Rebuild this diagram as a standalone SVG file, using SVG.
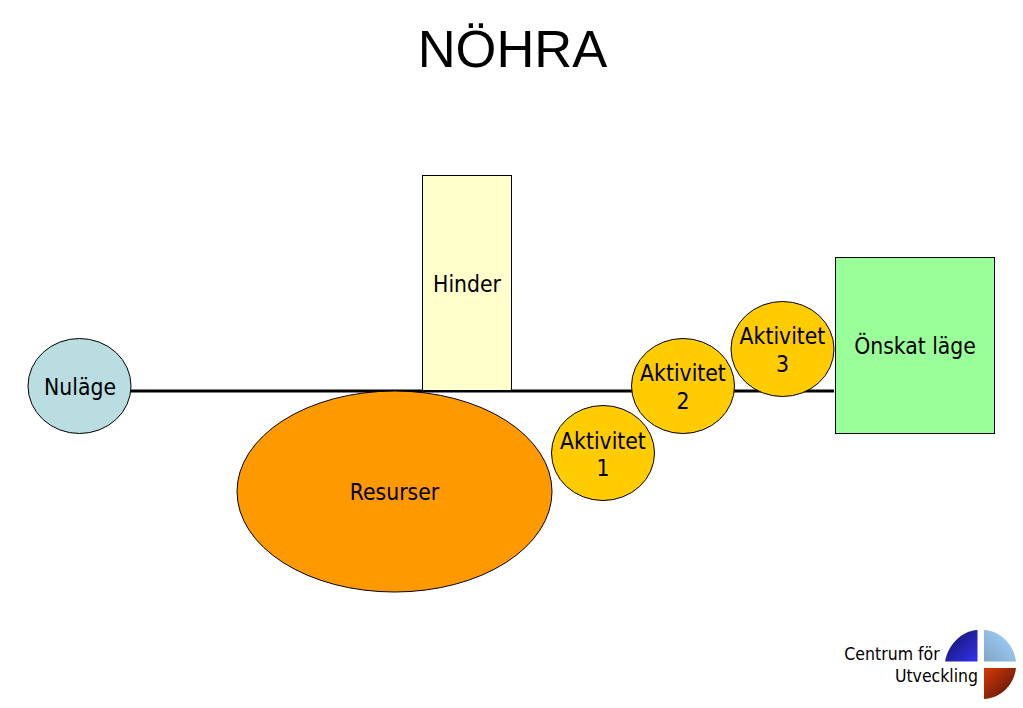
<svg xmlns="http://www.w3.org/2000/svg" width="1023" height="708" viewBox="0 0 1023 708">
<defs>
<linearGradient id="gb" x1="0" y1="0" x2="1" y2="1"><stop offset="0" stop-color="#10105c"/><stop offset="1" stop-color="#3333ee"/></linearGradient>
<linearGradient id="gl" x1="1" y1="0" x2="0" y2="1"><stop offset="0" stop-color="#a6d4ff"/><stop offset="1" stop-color="#7fa6c8"/></linearGradient>
<linearGradient id="gr" x1="0" y1="0" x2="1" y2="1"><stop offset="0" stop-color="#d83a08"/><stop offset="1" stop-color="#4a1206"/></linearGradient>
</defs>
<style>
text{font-family:"DejaVu Sans",Verdana,sans-serif;font-stretch:condensed;font-size:22.700px;fill:#000;text-anchor:middle}
.s{stroke:#000;stroke-width:1}
.a{fill:#ffcc00}
.l{font-size:17.500px}
</style>
<rect width="1023" height="708" fill="#fff"/>
<text x="512.500" y="67" style="font-family:'Liberation Sans',Arial,sans-serif;font-stretch:normal;font-size:52.500px">NÖHRA</text>
<g id="connectors"><line x1="130" y1="391" x2="834" y2="391" stroke="#000" stroke-width="3"/></g>
<g id="hinder"><rect class="s" x="422.500" y="175.500" width="89" height="215" fill="#ffffcc"/><text x="467" y="292">Hinder</text></g>
<g id="nulage"><ellipse class="s" cx="79.500" cy="386" rx="51.500" ry="47.500" fill="#b9dde0"/><text x="80" y="395">Nuläge</text></g>
<g id="resurser"><ellipse class="s" cx="394.500" cy="491.500" rx="157.500" ry="100.500" fill="#ff9900"/><text x="394.500" y="500">Resurser</text></g>
<g id="aktivitet1"><ellipse class="s a" cx="603" cy="453" rx="51.500" ry="47.500"/><text x="603" y="449">Aktivitet</text><text x="603" y="476">1</text></g>
<g id="aktivitet2"><ellipse class="s a" cx="683" cy="386" rx="51.500" ry="47.500"/><text x="683" y="381">Aktivitet</text><text x="683" y="409">2</text></g>
<g id="aktivitet3"><ellipse class="s a" cx="782.500" cy="349" rx="51.500" ry="47.500"/><text x="782.500" y="344">Aktivitet</text><text x="782.500" y="372">3</text></g>
<g id="onskat"><rect class="s" x="835.500" y="257.500" width="159" height="176" fill="#99ff99"/><text x="915" y="354">Önskat läge</text></g>
<g id="logo">
<path d="M977.500 630V661.500H945C948 645 961 631 977.500 630Z" fill="url(#gb)"/>
<path d="M984 630V661.500H1016C1014 645 1001 631 984 630Z" fill="url(#gl)"/>
<path d="M984 668H1016C1014 685 1001 698 984 699Z" fill="url(#gr)"/>
<text class="l" x="892" y="660">Centrum för</text>
<text class="l" x="936.500" y="682">Utveckling</text>
</g>
</svg>
